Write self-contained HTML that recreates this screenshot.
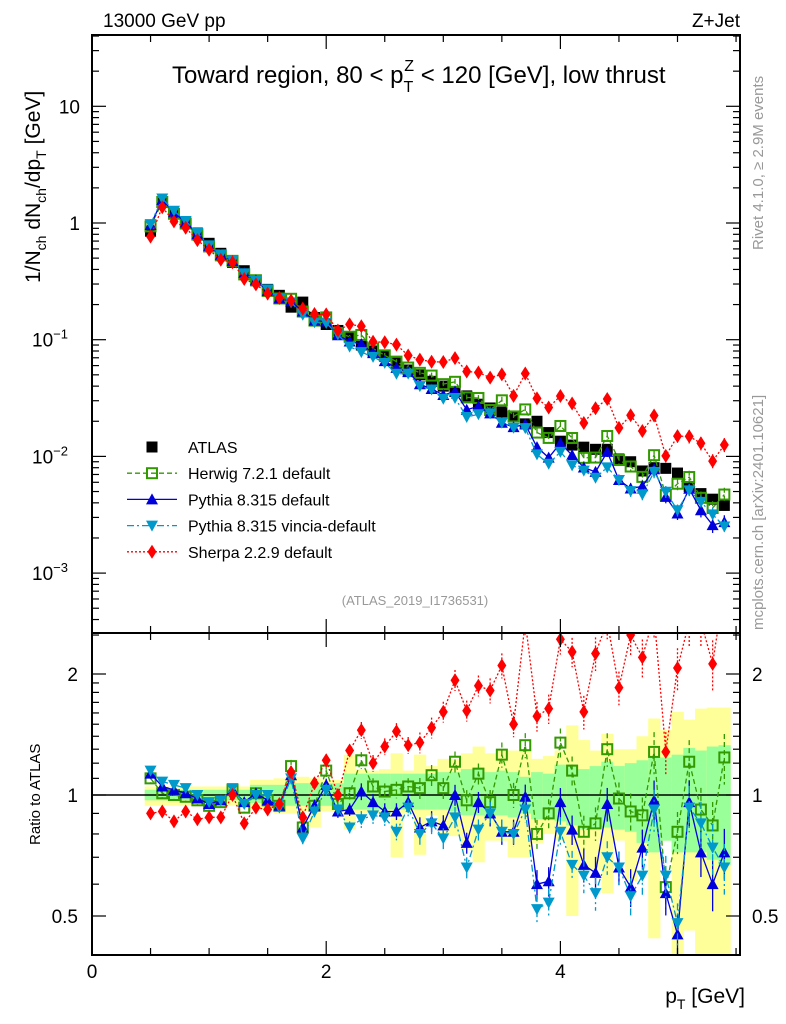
<!DOCTYPE html>
<html><head><meta charset="utf-8"><style>
body{margin:0;background:#fff}
svg{display:block;font-family:"Liberation Sans",sans-serif}
</style></head><body>
<svg id="c" width="786" height="1024" viewBox="0 0 786 1024"></svg>
<script>
const pts=[0.5,0.6,0.7,0.8,0.9,1.0,1.1,1.2,1.3,1.4,1.5,1.6,1.7,1.8,1.9,2.0,2.1,2.2,2.3,2.4,2.5,2.6,2.7,2.8,2.9,3.0,3.1,3.2,3.3,3.4,3.5,3.6,3.7,3.8,3.9,4.0,4.1,4.2,4.3,4.4,4.5,4.6,4.7,4.8,4.9,5.0,5.1,5.2,5.3,5.4];
const atlas=[0.85,1.5,1.2,1.0,0.82,0.67,0.55,0.46,0.39,0.32,0.27,0.24,0.19,0.21,0.155,0.135,0.12,0.105,0.09,0.08,0.072,0.063,0.055,0.05,0.044,0.04,0.036,0.033,0.028,0.026,0.024,0.022,0.019,0.02,0.016,0.0135,0.0125,0.012,0.0115,0.0115,0.0095,0.009,0.0075,0.008,0.0079,0.0072,0.0055,0.0048,0.0043,0.0038];
const herwigR=[1.10,1.01,1.0,0.99,0.97,0.94,0.96,1.03,0.93,1.01,0.97,0.94,1.18,0.83,0.94,1.15,0.95,1.01,1.22,1.05,1.02,1.03,1.05,1.04,1.12,1.04,1.21,0.97,1.13,0.96,1.26,1.0,1.33,0.80,0.90,1.35,1.15,0.81,0.85,1.30,0.98,0.91,0.89,1.28,0.59,0.81,1.21,0.92,0.84,1.24];
const pythiaR=[1.13,1.05,1.03,1.01,0.98,0.95,0.97,1.03,0.96,1.01,0.97,0.94,1.12,0.83,0.94,1.06,0.91,0.92,1.02,0.96,0.91,0.91,0.96,0.83,0.86,0.84,1.0,0.76,0.96,0.90,0.81,0.81,0.99,0.60,0.61,0.96,0.82,0.67,0.64,0.95,0.66,0.59,0.74,0.97,0.57,0.45,0.96,0.72,0.60,0.72];
const vinciaR=[1.15,1.08,1.06,1.04,1.0,0.96,0.97,1.04,0.95,1.0,1.0,0.93,1.10,0.78,0.91,1.03,0.92,0.83,0.87,0.89,0.88,0.81,0.93,0.80,0.85,0.78,0.88,0.66,0.82,0.90,0.81,0.80,0.92,0.52,0.54,0.81,0.67,0.63,0.57,0.70,0.66,0.56,0.63,0.92,0.63,0.48,0.93,0.85,0.74,0.66];
const sherpaR=[0.90,0.91,0.86,0.91,0.87,0.88,0.88,1.0,0.85,0.93,0.92,0.95,1.14,0.88,1.07,1.22,1.0,1.29,1.45,1.2,1.32,1.44,1.33,1.35,1.47,1.61,1.93,1.62,1.87,1.82,2.10,1.50,2.7,1.57,1.64,2.44,2.27,1.61,2.25,2.7,1.85,2.5,2.2,2.8,1.28,2.07,2.7,2.7,2.12,3.3];
const greenUp=[1.03,1.03,1.03,1.03,1.03,1.03,1.03,1.03,1.03,1.06,1.06,1.06,1.07,1.07,1.07,1.07,1.07,1.13,1.13,1.13,1.13,1.13,1.13,1.13,1.13,1.14,1.14,1.16,1.17,1.14,1.15,1.14,1.11,1.14,1.13,1.19,1.19,1.16,1.18,1.21,1.18,1.20,1.22,1.25,1.24,1.26,1.31,1.29,1.32,1.33];
const greenDn=[0.97,0.97,0.97,0.97,0.97,0.97,0.97,0.97,0.97,0.955,0.955,0.955,0.94,0.94,0.94,0.94,0.94,0.92,0.92,0.92,0.92,0.92,0.92,0.92,0.92,0.92,0.91,0.89,0.89,0.88,0.89,0.88,0.9,0.87,0.87,0.86,0.84,0.82,0.83,0.83,0.82,0.81,0.76,0.72,0.77,0.72,0.72,0.72,0.69,0.67];
const yellowUp=[1.05,1.05,1.05,1.05,1.05,1.05,1.05,1.05,1.05,1.09,1.09,1.10,1.11,1.11,1.10,1.09,1.09,1.26,1.16,1.15,1.16,1.27,1.15,1.26,1.18,1.23,1.23,1.27,1.32,1.27,1.30,1.29,1.30,1.23,1.25,1.29,1.49,1.37,1.29,1.42,1.30,1.30,1.40,1.55,1.45,1.61,1.54,1.64,1.65,1.65];
const yellowDn=[0.94,0.94,0.94,0.94,0.94,0.94,0.94,0.94,0.94,0.92,0.92,0.9,0.9,0.91,0.83,0.91,0.91,0.82,0.9,0.9,0.88,0.70,0.9,0.71,0.89,0.79,0.79,0.73,0.68,0.77,0.77,0.70,0.70,0.76,0.80,0.77,0.50,0.65,0.65,0.57,0.77,0.61,0.72,0.44,0.77,0.3,0.46,0.3,0.3,0.3];
const errRel=[0.02,0.02,0.02,0.02,0.02,0.02,0.02,0.02,0.02,0.02,0.02,0.02,0.03,0.03,0.03,0.03,0.03,0.03,0.04,0.04,0.04,0.04,0.04,0.05,0.05,0.05,0.05,0.05,0.05,0.06,0.06,0.06,0.06,0.07,0.07,0.07,0.07,0.08,0.08,0.08,0.08,0.09,0.09,0.1,0.1,0.1,0.11,0.11,0.12,0.12];

const S=document.getElementById('c'),NS='http://www.w3.org/2000/svg';
function el(t,a,p){const e=document.createElementNS(NS,t);for(const k in a)e.setAttribute(k,a[k]);(p||S).appendChild(e);return e;}
const X0=92,X1=740,MT=35,MB=633,RB=955;
const xs=v=>X0+v*117.1;
const ym=v=>223-116.7*Math.log10(v);
const yr=v=>795-121*Math.log2(v);
const clipM=el('clipPath',{id:'cm'});el('rect',{x:X0,y:MT,width:X1-X0,height:MB-MT},clipM);
const clipR=el('clipPath',{id:'cr'});el('rect',{x:X0,y:MB,width:X1-X0,height:RB-MB},clipR);
const gBand=el('g',{'clip-path':'url(#cr)'});


pts.forEach((p,i)=>{
  const xa=xs(p-0.05),w=117.1*0.1;
  const r1=el('rect',{x:xa,y:yr(yellowUp[i]),width:w+0.5,height:yr(yellowDn[i])-yr(yellowUp[i]),fill:'#ffff99'},gBand);
  
  
  const r2=el('rect',{x:xa,y:yr(greenUp[i]),width:w+0.5,height:yr(greenDn[i])-yr(greenUp[i]),fill:'#99ff99'},gBand);
  
  
});
const one=el('line',{x1:X0,x2:X1,y1:yr(1),y2:yr(1),stroke:'#000','stroke-width':1.5});


function marker(g,type,x,y,col){
  let m;
  if(type==='sq')m=el('rect',{x:x-5.5,y:y-5.5,width:11,height:11,fill:'#000'},g);
  else if(type==='osq')m=el('rect',{x:x-5,y:y-5,width:10,height:10,fill:'none',stroke:col,'stroke-width':2},g);
  else if(type==='up')m=el('polygon',{points:`${x-6},${y+5} ${x+6},${y+5} ${x},${y-6}`,fill:col},g);
  else if(type==='dn')m=el('polygon',{points:`${x-6},${y-5} ${x+6},${y-5} ${x},${y+6}`,fill:col},g);
  else m=el('polygon',{points:`${x},${y-7} ${x+4.5},${y} ${x},${y+7} ${x-4.5},${y}`,fill:col},g);
  return m;
}
const series=[
 {name:'herwig',r:herwigR,col:'#339900',type:'osq',dash:'5,3'},
 {name:'pythia',r:pythiaR,col:'#0000dd',type:'up',dash:''},
 {name:'vincia',r:vinciaR,col:'#0099cc',type:'dn',dash:'7,3,2,3'},
 {name:'sherpa',r:sherpaR,col:'#ff0000',type:'dia',dash:'2,2'}
];
function drawSeries(s,panel){
  const g=el('g',{'clip-path':panel==='main'?'url(#cm)':'url(#cr)'});
  
  
  const yy=panel==='main'?(i=>ym(atlas[i]*s.r[i])):(i=>yr(s.r[i]));
  const d=pts.map((p,i)=>(i?'L':'M')+xs(p)+','+yy(i)).join(' ');
  const ln=el('path',{d,fill:'none',stroke:s.col,'stroke-width':1.3,'stroke-dasharray':s.dash},g);
  
  
  pts.forEach((p,i)=>{
    const v=panel==='main'?atlas[i]*s.r[i]:s.r[i],e=errRel[i]*1.2;
    const f=panel==='main'?ym:yr;
    const eb=el('line',{x1:xs(p),x2:xs(p),y1:f(v*(1+e)),y2:f(v*(1-e)),stroke:s.col,'stroke-width':1.3,'stroke-dasharray':s.dash},g);
    
    
    const m=marker(g,s.type,xs(p),f(v),s.col);
    
    
  });
}
const ga=el('g',{'clip-path':'url(#cm)'});


pts.forEach((p,i)=>{const m=marker(ga,'sq',xs(p),ym(atlas[i]));
  
  });
series.forEach(s=>drawSeries(s,'main'));
series.forEach(s=>drawSeries(s,'ratio'));
[[MT,MB],[MB,RB]].forEach(([a,b],k)=>{const r=el('rect',{x:X0,y:a,width:X1-X0,height:b-a,fill:'none',stroke:'#000','stroke-width':2});
 
 });
const tk=el('g',{stroke:'#000','stroke-width':1.2});


for(let v=0;v<=5.5;v+=0.5){const x=xs(v),L=(v%2===0)?14:7;
 [[MT,MT+L],[MB,MB-L],[MB,MB+L],[RB,RB-L]].forEach(([a,b])=>el('line',{x1:x,x2:x,y1:a,y2:b},tk));}
for(let d=-4;d<=1;d++)for(let m=1;m<10;m++){const v=m*Math.pow(10,d),y=ym(v);if(y<MT||y>MB)continue;const L=m===1?14:7;
 el('line',{x1:X0,x2:X0+L,y1:y,y2:y},tk);el('line',{x1:X1,x2:X1-L,y1:y,y2:y},tk);}
[0.4,0.5,0.6,0.7,0.8,0.9,1,1.1,1.2,1.3,1.4,1.5,1.6,1.7,1.8,1.9,2,2.5].forEach(v=>{const y=yr(v);if(y<MB||y>RB)return;const L=(v===0.5||v===1||v===2)?14:7;
 el('line',{x1:X0,x2:X0+L,y1:y,y2:y},tk);el('line',{x1:X1,x2:X1-L,y1:y,y2:y},tk);});
function txt(s,a,name){const t=el('text',a);t.innerHTML=s;return t;}
txt('10',{x:80,y:ym(10)+7,'text-anchor':'end','font-size':19},'y-tick-10');
txt('1',{x:80,y:ym(1)+7,'text-anchor':'end','font-size':19},'y-tick-1');
['-1','-2','-3'].forEach((e,i)=>txt(`10<tspan dy="-8" font-size="13">${e.replace('-','−')}</tspan>`,{x:68,y:ym(Math.pow(10,-1-i))+7,'text-anchor':'end','font-size':19},'y-tick-1e'+e));
[['2',2],['1',1],['0.5',0.5]].forEach(([s,v])=>{txt(s,{x:78,y:yr(v)+7,'text-anchor':'end','font-size':19},'ratio-tick-left-'+s);txt(s,{x:752,y:yr(v)+7,'font-size':19},'ratio-tick-right-'+s);});
[0,2,4].forEach(v=>txt(String(v),{x:xs(v),y:978,'text-anchor':'middle','font-size':19},'x-tick-'+v));
txt('p<tspan dy="6" font-size="14">T</tspan><tspan dy="-6"> [GeV]</tspan>',{x:745,y:1003,'text-anchor':'end','font-size':21},'x-axis-title');
txt('1/N<tspan dy="6" font-size="14">ch</tspan><tspan dy="-6"> dN</tspan><tspan dy="6" font-size="14">ch</tspan><tspan dy="-6">/dp</tspan><tspan dy="6" font-size="14">T</tspan><tspan dy="-6"> [GeV]</tspan>',{x:0,y:0,transform:'translate(40,283) rotate(-90)','font-size':21},'y-axis-title');
txt('Ratio to ATLAS',{x:0,y:0,transform:'translate(40,845) rotate(-90)','font-size':15},'ratio-axis-title');
txt('13000 GeV pp',{x:103,y:27,'font-size':19},'beam-label');
txt('Z+Jet',{x:740,y:27,'text-anchor':'end','font-size':19},'process-label');
txt('Toward region, 80 &lt; p<tspan dy="9" font-size="16">T</tspan><tspan dx="-9" dy="-21" font-size="16">Z</tspan><tspan dy="12"> &lt; 120 [GeV], low thrust</tspan>',{x:172,y:83,'font-size':24},'plot-title');
txt('(ATLAS_2019_I1736531)',{x:415,y:605,'text-anchor':'middle','font-size':13,fill:'#999'},'analysis-id');
txt('Rivet 4.1.0, ≥ 2.9M events',{x:0,y:0,transform:'translate(763,250) rotate(-90)','font-size':15,fill:'#999'},'rivet-label');
txt('mcplots.cern.ch [arXiv:2401.10621]',{x:0,y:0,transform:'translate(763,630) rotate(-90)','font-size':15,fill:'#999'},'mcplots-label');
const leg=[['ATLAS','sq','#000',''],['Herwig 7.2.1 default','osq','#339900','5,3'],['Pythia 8.315 default','up','#0000dd',''],['Pythia 8.315 vincia-default','dn','#0099cc','7,3,2,3'],['Sherpa 2.2.9 default','dia','#ff0000','2,2']];
leg.forEach(([n,t,c,d],i)=>{const y=447+i*26.2;const g=el('g',{});
 
 
 if(i>0)el('line',{x1:127,x2:177,y1:y,y2:y,stroke:c,'stroke-width':1.3,'stroke-dasharray':d},g);
 marker(g,t,152,y,c);
 const tt=el('text',{x:188,y:y+6,'font-size':16},g);tt.textContent=n;});
</script>
</body></html>
